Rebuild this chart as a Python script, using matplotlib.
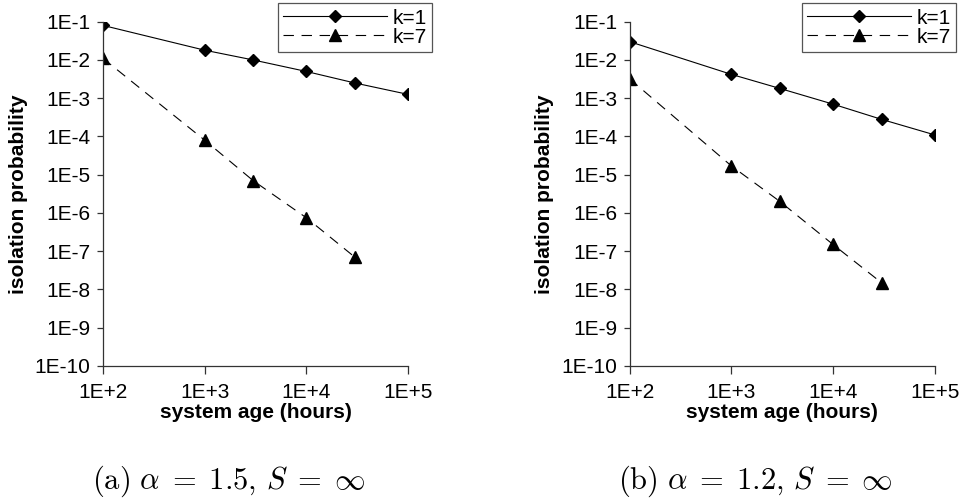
import numpy as np
import matplotlib
matplotlib.use("Agg")
import matplotlib.pyplot as plt
from matplotlib.ticker import FixedLocator, FuncFormatter

plt.rcParams['font.family'] = ['Liberation Sans', 'DejaVu Sans']
plt.rcParams['mathtext.fontset'] = 'cm'
plt.rcParams['lines.scale_dashes'] = False

# system age (hours)
hours = [100, 1000, 3000, 10000, 30000, 100000]
hours_k7 = [100, 1000, 3000, 10000, 30000]

# (a) alpha = 1.5
a_k1 = [0.08, 0.018, 0.01, 0.005, 0.0025, 0.00126]
a_k7 = [0.011, 8e-5, 7e-6, 7.5e-7, 7e-8]

# (b) alpha = 1.2
b_k1 = [0.03, 0.0042, 0.0018, 7e-4, 2.8e-4, 1.1e-4]
b_k7 = [3.2e-3, 1.7e-5, 2e-6, 1.5e-7, 1.5e-8]

captions = [r"$\mathrm{(a)}\ \alpha\;=\;1.5,\,S\;=\;\infty$",
            r"$\mathrm{(b)}\ \alpha\;=\;1.2,\,S\;=\;\infty$"]

fig = plt.figure(figsize=(9.61, 5.03), dpi=100)
W, H = 961.0, 503.0

lefts = [103, 629.7]
legend_right = [432, 956]
caption_x = [229, 755]
panels = [(a_k1, a_k7), (b_k1, b_k7)]
fs = 15


def fmt(v, pos):
    return "1E%+d" % int(round(np.log10(v)))


for i in range(2):
    k1, k7 = panels[i]
    ax = fig.add_axes([lefts[i] / W, 1 - 366 / H, 305 / W, (366 - 21.7) / H])
    ax.plot(hours, k1, color='black', lw=0.8, marker='D', markersize=6.5, label='k=1')
    ax.plot(hours_k7, k7, color='black', lw=0.8, ls=(0, (7.5, 5.5)), marker='^',
            markersize=8.5, label='k=7')
    ax.set_xscale('log')
    ax.set_yscale('log')
    ax.set_xlim(100, 1e5)
    ax.set_ylim(1e-10, 1e-1)
    ax.yaxis.set_major_locator(FixedLocator([10.0 ** e for e in range(-10, 0)]))
    ax.xaxis.set_major_locator(FixedLocator([1e2, 1e3, 1e4, 1e5]))
    ax.yaxis.set_minor_locator(FixedLocator([]))
    ax.xaxis.set_minor_locator(FixedLocator([]))
    ax.xaxis.set_major_formatter(FuncFormatter(fmt))
    ax.yaxis.set_major_formatter(FuncFormatter(fmt))
    for s in ['top', 'right']:
        ax.spines[s].set_visible(False)
    for s in ['left', 'bottom']:
        ax.spines[s].set_color('#333333')
        ax.spines[s].set_linewidth(0.9)
    ax.tick_params(axis='both', labelsize=fs, color='#333333', width=0.9)
    ax.tick_params(axis='y', length=4, pad=5)
    ax.tick_params(axis='x', length=6, pad=6)
    ax.set_xlabel("system age (hours)", fontsize=fs, fontweight='bold', labelpad=1)
    ax.set_ylabel("isolation probability", fontsize=fs, fontweight='bold', labelpad=5)
    ax.patch.set_visible(False)

    leg = ax.legend(loc='upper right', bbox_to_anchor=(legend_right[i] / W, 1 - 3.3 / H),
                    bbox_transform=fig.transFigure, borderaxespad=0, fancybox=False,
                    edgecolor='#555555', framealpha=1, fontsize=fs, handlelength=5.0,
                    handletextpad=0.25, labelspacing=0.0, borderpad=0.25)
    leg.get_frame().set_linewidth(0.9)

    fig.text(caption_x[i] / W, 1 - 481 / H, captions[i], fontsize=22, ha='center', va='center')

fig.savefig("out.png", dpi=100)
